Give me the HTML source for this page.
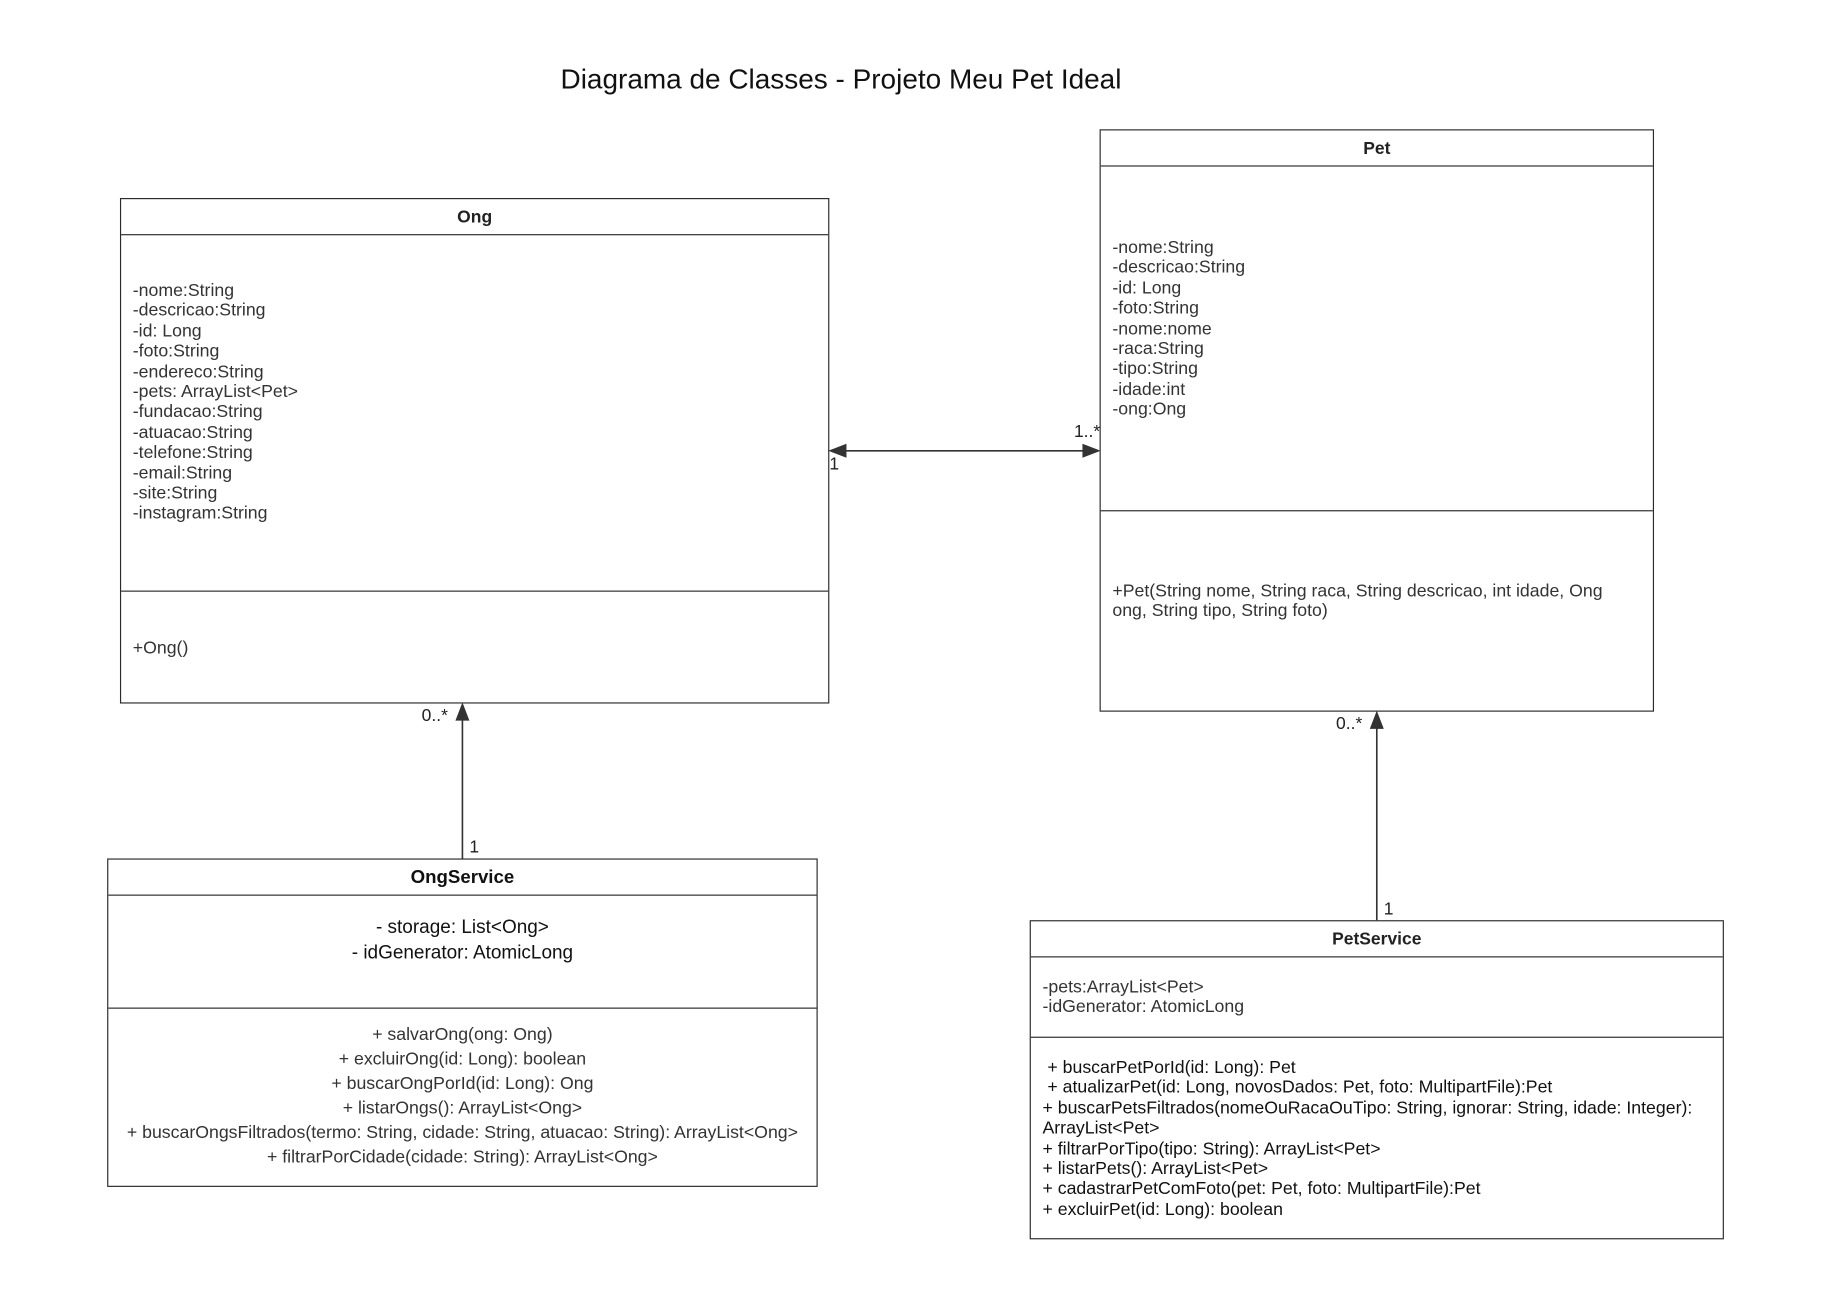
<!DOCTYPE html>
<html><head><meta charset="utf-8"><style>
html,body{margin:0;padding:0;background:#fff;width:1826px;height:1310px;overflow:hidden}
#w{position:absolute;left:0;top:0;width:1568px;height:1125px;transform:scale(1.1648);transform-origin:0 0;font-family:"Liberation Sans",sans-serif;color:#222}
.b{position:absolute;border:1.6px solid #2a2a2a;box-sizing:border-box;background:#fff}
.h{position:absolute;left:0;right:0;border-top:1.6px solid #2a2a2a}
.t{position:absolute;white-space:pre;font-size:15.2px;line-height:17.4px;color:#333}
.ttl{position:absolute;font-weight:bold;font-size:15px;text-align:center;left:0;right:0}
.l{position:absolute;font-size:15px;color:#222}
</style></head><body><div id="w">
<div class="l" style="left:0;width:1444px;text-align:center;top:55px;font-size:24px;color:#111">Diagrama de Classes - Projeto Meu Pet Ideal</div>

<div class="b" style="left:103px;top:170px;width:609px;height:434px">
 <div class="ttl" style="top:7px">Ong</div>
 <div class="h" style="top:30px"></div>
 <div class="h" style="top:336px"></div>
 <div class="t" style="left:10px;top:70px">-nome:String
-descricao:String
-id: Long
-foto:String
-endereco:String
-pets: ArrayList&lt;Pet&gt;
-fundacao:String
-atuacao:String
-telefone:String
-email:String
-site:String
-instagram:String</div>
 <div class="t" style="left:10px;top:377px">+Ong()</div>
</div>

<div class="b" style="left:944px;top:111px;width:476px;height:500px">
 <div class="ttl" style="top:7px">Pet</div>
 <div class="h" style="top:30px"></div>
 <div class="h" style="top:326px"></div>
 <div class="t" style="left:10px;top:92px">-nome:String
-descricao:String
-id: Long
-foto:String
-nome:nome
-raca:String
-tipo:String
-idade:int
-ong:Ong</div>
 <div class="t" style="left:10px;top:387px">+Pet(String nome, String raca, String descricao, int idade, Ong
ong, String tipo, String foto)</div>
</div>

<div class="b" style="left:92px;top:737px;width:610px;height:282px">
 <div class="ttl" style="top:7px;font-size:16px;color:#111">OngService</div>
 <div class="h" style="top:30px"></div>
 <div class="h" style="top:127px"></div>
 <div class="t" style="left:0;right:0;text-align:center;top:47px;font-size:16.3px;line-height:22px;color:#111">- storage: List&lt;Ong&gt;
- idGenerator: AtomicLong</div>
 <div class="t" style="left:0;right:0;text-align:center;top:141px;line-height:20.9px">+ salvarOng(ong: Ong)
+ excluirOng(id: Long): boolean
+ buscarOngPorId(id: Long): Ong
+ listarOngs(): ArrayList&lt;Ong&gt;
+ buscarOngsFiltrados(termo: String, cidade: String, atuacao: String): ArrayList&lt;Ong&gt;
+ filtrarPorCidade(cidade: String): ArrayList&lt;Ong&gt;</div>
</div>

<div class="b" style="left:884px;top:790px;width:596px;height:274px">
 <div class="ttl" style="top:7px">PetService</div>
 <div class="h" style="top:30px"></div>
 <div class="h" style="top:99px"></div>
 <div class="t" style="left:10px;top:48px">-pets:ArrayList&lt;Pet&gt;
-idGenerator: AtomicLong</div>
 <div class="t" style="left:10px;top:117px;color:#111"> + buscarPetPorId(id: Long): Pet
 + atualizarPet(id: Long, novosDados: Pet, foto: MultipartFile):Pet
+ buscarPetsFiltrados(nomeOuRacaOuTipo: String, ignorar: String, idade: Integer):
ArrayList&lt;Pet&gt;
+ filtrarPorTipo(tipo: String): ArrayList&lt;Pet&gt;
+ listarPets(): ArrayList&lt;Pet&gt;
+ cadastrarPetComFoto(pet: Pet, foto: MultipartFile):Pet
+ excluirPet(id: Long): boolean</div>
</div>

<svg style="position:absolute;left:0;top:0" width="1568" height="1125">
 <g stroke="#333" stroke-width="1.4" fill="#333">
  <line x1="714" y1="387" x2="942" y2="387"/>
  <polygon points="713,387 726,382 726,392"/>
  <polygon points="943,387 930,382 930,392"/>
  <line x1="397" y1="737" x2="397" y2="608"/>
  <polygon points="397,605 392,618 402,618"/>
  <line x1="1182" y1="790" x2="1182" y2="615"/>
  <polygon points="1182,612 1177,625 1187,625"/>
 </g>
</svg>
<div class="l" style="left:712px;top:390px">1</div>
<div class="l" style="left:922px;top:362px">1..*</div>
<div class="l" style="left:362px;top:606px">0..*</div>
<div class="l" style="left:403px;top:719px">1</div>
<div class="l" style="left:1147px;top:613px">0..*</div>
<div class="l" style="left:1188px;top:772px">1</div>
</div></body></html>
